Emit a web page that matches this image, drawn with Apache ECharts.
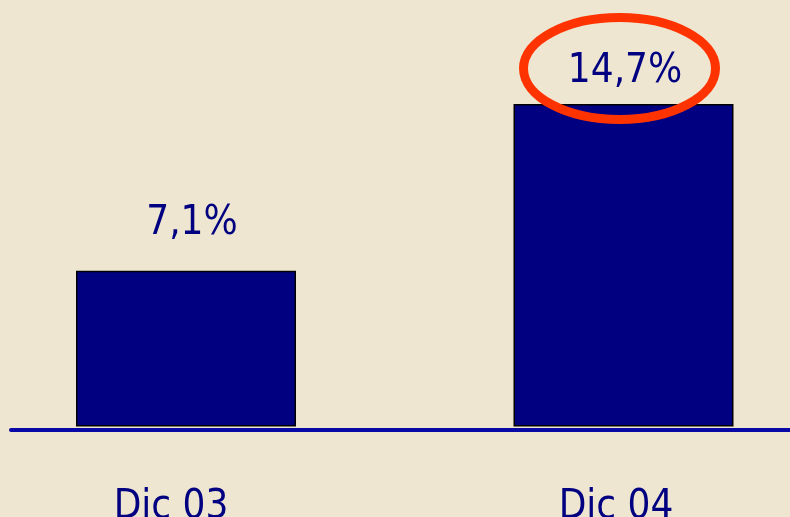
<!DOCTYPE html>
<html>
<head>
<meta charset="utf-8">
<script src="https://cdn.jsdelivr.net/npm/echarts@6/dist/echarts.min.js"></script>
<style>
html, body { margin: 0; padding: 0; background: #EFE6D1; }
#main { width: 790px; height: 517px; }
</style>
</head>
<body>
<div id="main"></div>
<script>
// datos
var categories = ['Dic 03', 'Dic 04'];
var values = [7.1, 14.7];
var valueLabels = ['7,1%', '14,7%'];
var highlightIndex = 1; // barra marcada con el óvalo rojo

var fontFam = "'DejaVu Sans Condensed', 'DejaVu Sans', sans-serif";
var navy = '#000080';

var myChart = echarts.init(document.getElementById('main'));

// ajustes finos de las etiquetas
var labelDist = [27, 12];
var labelShift = [6, 1.5];
var catPad = [[0, 30, 0, 0], [0, 15, 0, 0]];

var barData = values.map(function (v, i) {
    return {
        value: v,
        label: {
            distance: labelDist[i],
            offset: [labelShift[i], 0],
            formatter: valueLabels[i]
        }
    };
});

var rich = {};
catPad.forEach(function (p, i) {
    rich['c' + i] = {
        padding: p,
        fontSize: 40,
        fontFamily: fontFam,
        color: navy
    };
});

var option = {
    backgroundColor: '#EFE6D1',
    animation: false,
    grid: [
        {left: -32.75, width: 875, top: 0, bottom: 86.5, outerBoundsMode: 'none', containLabel: false},
        {left: 11, right: 0, top: 0, bottom: 87, outerBoundsMode: 'none'}
    ],
    xAxis: [
        {
            type: 'category',
            gridIndex: 0,
            data: categories,
            axisLine: {show: false},
            axisTick: {show: false},
            splitLine: {show: false},
            axisLabel: {
                interval: 0,
                margin: 57,
                fontSize: 40,
                fontFamily: fontFam,
                color: navy,
                formatter: function (v, i) {
                    return '{c' + i + '|' + v + '}';
                },
                rich: rich
            }
        },
        {
            type: 'value',
            gridIndex: 1,
            min: 0,
            max: 1,
            axisLine: {show: true, onZero: false, lineStyle: {color: '#0808A6', width: 4}},
            axisTick: {show: false},
            axisLabel: {show: false},
            splitLine: {show: false}
        }
    ],
    yAxis: [
        {
            type: 'value',
            gridIndex: 0,
            min: -0.18,
            max: 19.44,
            show: false
        },
        {
            type: 'value',
            gridIndex: 1,
            min: 0,
            max: 1,
            show: false
        }
    ],
    series: [
        {
            type: 'bar',
            xAxisIndex: 0,
            yAxisIndex: 0,
            barWidth: 220,
            data: barData,
            itemStyle: {
                color: navy,
                borderColor: '#000000',
                borderWidth: 1.5
            },
            label: {
                show: true,
                position: 'top',
                fontSize: 40,
                fontFamily: fontFam,
                color: navy
            }
        }
    ]
};
myChart.setOption(option);

// óvalo rojo alrededor de la etiqueta destacada
var top2 = myChart.convertToPixel({seriesIndex: 0}, [highlightIndex, values[highlightIndex]]);
myChart.setOption({
    graphic: [
        {
            type: 'ellipse',
            shape: {cx: top2[0] - 4, cy: top2[1] - 35.5, rx: 96, ry: 51},
            style: {fill: 'none', stroke: '#FF3300', lineWidth: 9},
            z: 100
        }
    ]
});
</script>
</body>
</html>
